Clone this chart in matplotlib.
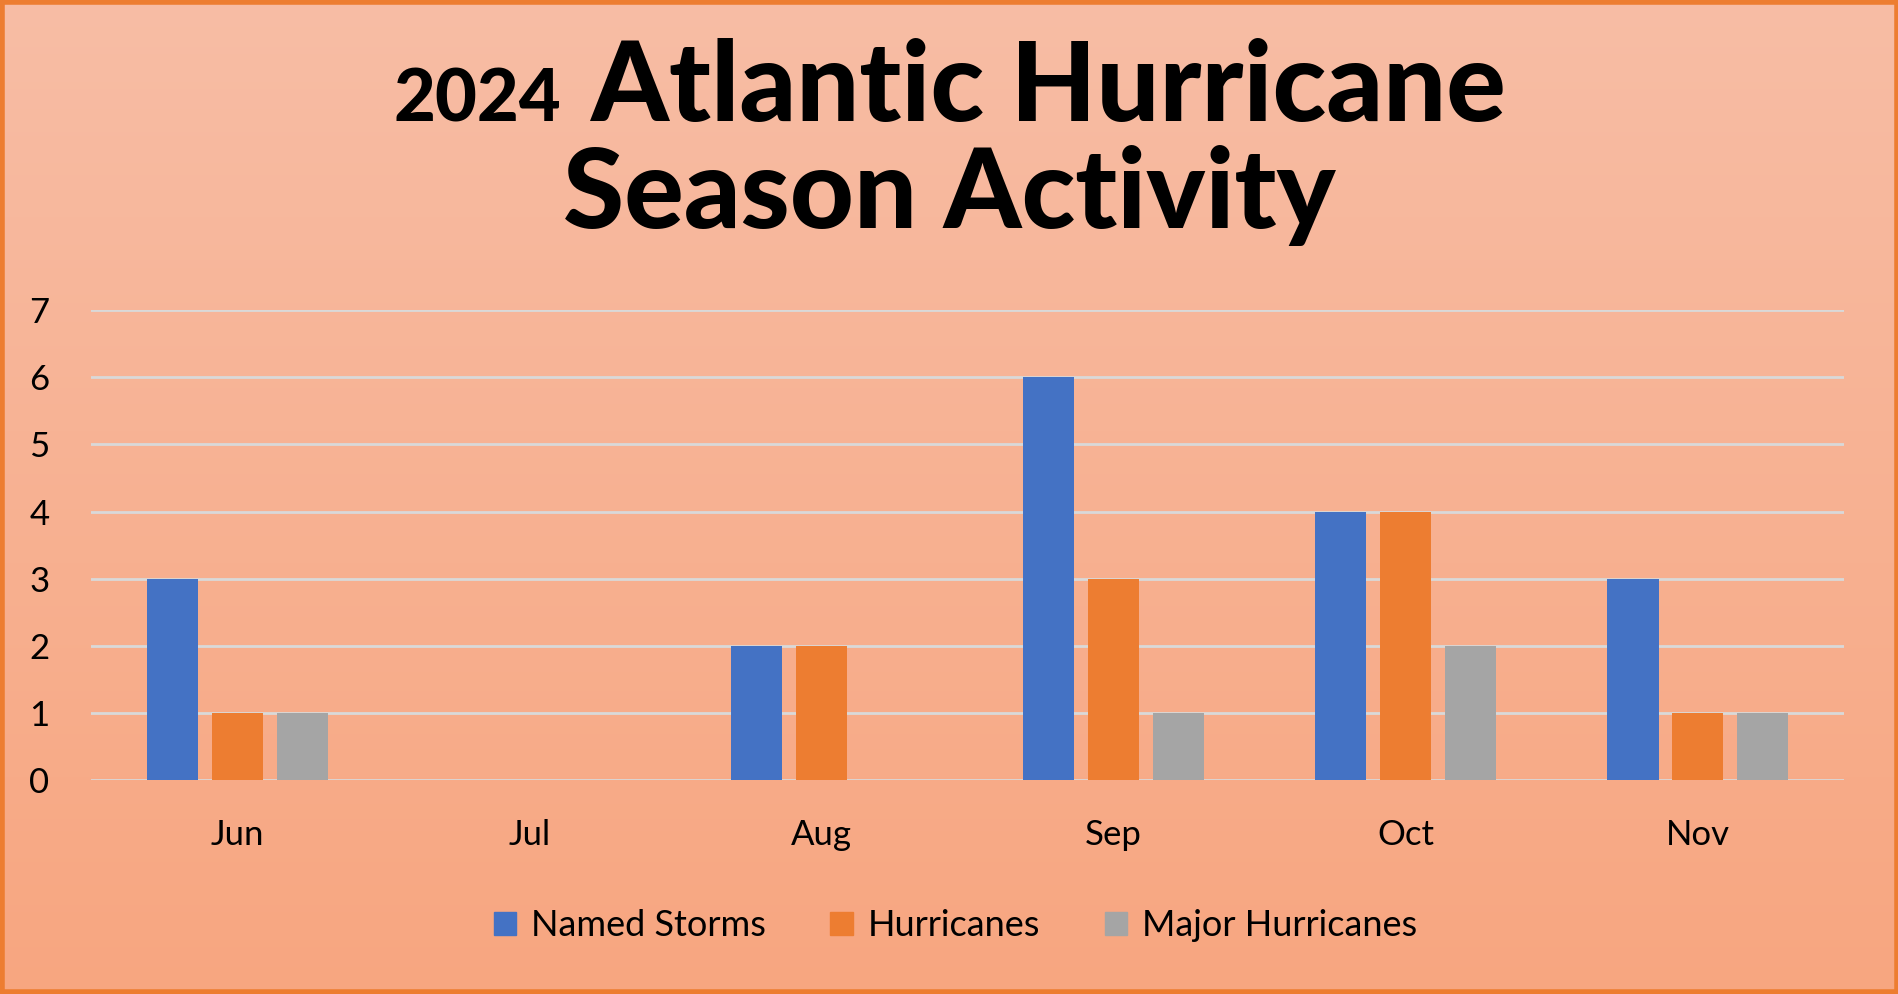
import matplotlib

matplotlib.use('Agg')
import matplotlib.pyplot as plt
import numpy as np
from matplotlib.patches import Patch, Rectangle

months = ['Jun', 'Jul', 'Aug', 'Sep', 'Oct', 'Nov']
named_storms = [3, 0, 2, 6, 4, 3]
hurricanes = [1, 0, 2, 3, 4, 1]
major_hurricanes = [1, 0, 0, 1, 2, 1]
series_names = ['Named Storms', 'Hurricanes', 'Major Hurricanes']
colors = ['#4472C4', '#ED7D31', '#A5A5A5']

plt.rcParams['font.family'] = ['Lato', 'DejaVu Sans']

fig = plt.figure(figsize=(18.99, 9.94), dpi=100)

# background gradient over the whole figure
bg = fig.add_axes([0, 0, 1, 1], zorder=-10)
grad = np.linspace(0, 1, 256).reshape(-1, 1)
top = np.array([248, 189, 165]) / 255
bot = np.array([247, 166, 128]) / 255
img = top + grad[:, :, None] * (bot - top)
bg.imshow(img, aspect='auto', extent=[0, 1, 0, 1], origin='upper')
bg.set_axis_off()
fig.patches.append(Rectangle((0.0013, 0.0025), 0.9974, 0.995, transform=fig.transFigure,
                             fill=False, edgecolor='#ED7D31', linewidth=4.0, zorder=10))

ax = fig.add_axes([0.048, 0.215, 0.923, 0.473])
ax.set_facecolor('none')
x = np.arange(len(months))
step = 0.222
width = 0.175
for i, (vals, name, c) in enumerate(zip([named_storms, hurricanes, major_hurricanes], series_names, colors)):
    ax.bar(x + (i - 1) * step, vals, width=width, color=c, label=name, zorder=3)

ax.set_xlim(-0.5, len(months) - 0.5)
ax.set_ylim(0, 7)
ax.set_yticks(range(0, 8))
ax.set_xticks(x)
ax.set_xticklabels(months)
ax.yaxis.grid(True, color='#D9D9D9', linewidth=2.0, zorder=0)
ax.set_axisbelow(True)
for s in ax.spines.values():
    s.set_visible(False)
ax.tick_params(axis='both', length=0, labelsize=25, colors='black')
ax.tick_params(axis='y', pad=30)
ax.tick_params(axis='x', pad=28)

handles = [Patch(color=c) for c in colors]
fig.legend(handles, series_names, loc='center', bbox_to_anchor=(0.503, 0.069), ncol=3,
           frameon=False, fontsize=26, handlelength=0.62, handleheight=0.62,
           handletextpad=0.4, columnspacing=1.8)

# title: "2024" is set smaller than the rest of the first line
t_year = fig.text(0, 0.878, '2024', fontsize=52, fontweight='black', va='baseline', ha='left')
t_main = fig.text(0, 0.878, 'Atlantic Hurricane', fontsize=80, fontweight='black', va='baseline', ha='left')
fig.text(0.5, 0.771, 'Season Activity', fontsize=80, fontweight='black', va='baseline', ha='center')
r = fig.canvas.get_renderer()
W = fig.bbox.width
w1 = t_year.get_window_extent(r).width / W
w2 = t_main.get_window_extent(r).width / W
gap = 30 / W
x0 = 0.5 - (w1 + gap + w2) / 2
t_year.set_x(x0)
t_main.set_x(x0 + w1 + gap)

fig.savefig('out.png', dpi=100)
